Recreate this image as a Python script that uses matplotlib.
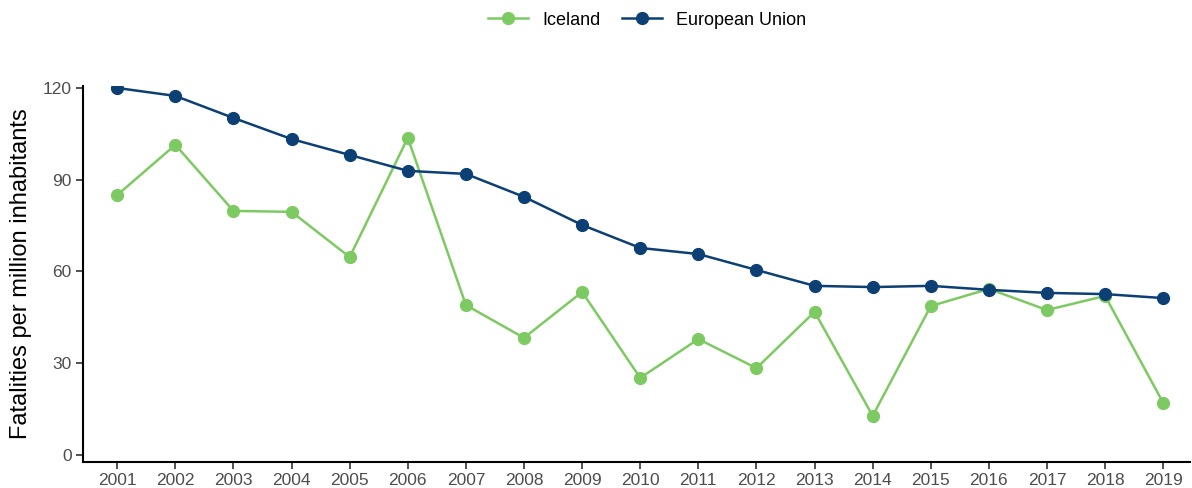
import matplotlib
matplotlib.use('Agg')
import matplotlib.pyplot as plt

plt.rcParams['font.family'] = ['Liberation Sans', 'DejaVu Sans']

years = list(range(2001, 2020))
iceland = [85.0, 101.4, 79.8, 79.5, 64.7, 103.7, 49.0, 38.3, 53.3, 25.2,
           37.9, 28.4, 46.8, 12.8, 48.7, 54.3, 47.4, 52.0, 17.0]
eu = [120.0, 117.4, 110.2, 103.3, 98.1, 92.9, 91.9, 84.4, 75.2, 67.7,
      65.7, 60.5, 55.3, 54.9, 55.3, 54.0, 53.0, 52.6, 51.3]
yticks = [0, 30, 60, 90, 120]

GREEN = '#7dca62'
NAVY = '#0c4075'

fig = plt.figure(figsize=(11.92, 4.88), dpi=100)
ax = fig.add_axes([0.0696, 0.0533, 0.9287, 0.7705])

ax.plot(years, iceland, color=GREEN, lw=1.8, marker='o', ms=8.5, label='Iceland')
ax.plot(years, eu, color=NAVY, lw=1.8, marker='o', ms=8.5, label='European Union')

ax.set_xlim(2000.41, 2019.46)
ax.set_ylim(-2.29, 120.65)
ax.set_xticks(years)
ax.set_yticks(yticks)
ax.tick_params(axis='both', labelsize=12.5, labelcolor='#4d4d4d', color='#333333',
               length=5, width=1.2, pad=3)
ax.set_ylabel('Fatalities per million inhabitants', fontsize=17, color='black',
              labelpad=8)

for side in ['top', 'right']:
    ax.spines[side].set_visible(False)
for side in ['left', 'bottom']:
    ax.spines[side].set_linewidth(1.5)
    ax.spines[side].set_color('black')

fig.legend(loc='center', bbox_to_anchor=(0.543, 0.959), ncol=2, frameon=False,
           fontsize=13, handlelength=2.2, columnspacing=1.2, handletextpad=0.8)

fig.savefig('out.png', dpi=100)
